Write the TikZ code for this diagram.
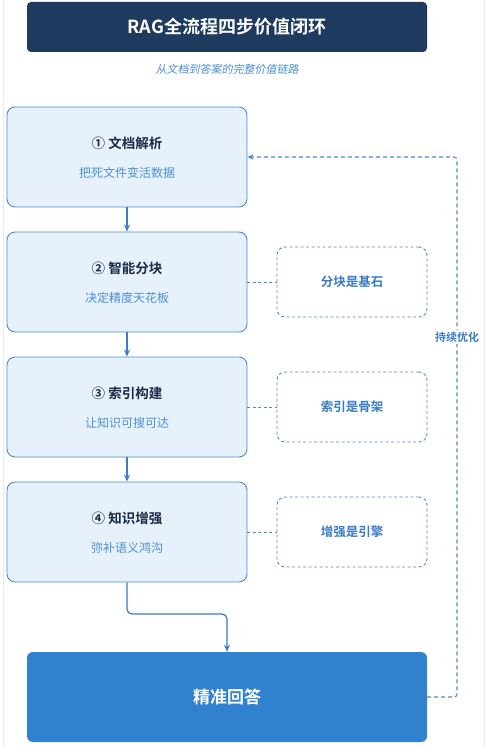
\documentclass[tikz,border=0pt]{standalone}
\usepackage{fontspec}
\setmainfont{Noto Sans CJK SC}[BoldFont={Noto Sans CJK SC Bold}]
\newfontfamily\cjkit{Noto Sans CJK SC}[FakeSlant=0.2]
\usetikzlibrary{arrows.meta}
\definecolor{navy}{HTML}{1E3A5F}
\definecolor{stepfill}{HTML}{E6F1FC}
\definecolor{stepline}{HTML}{4A8CD0}
\definecolor{darktext}{HTML}{1A2B45}
\definecolor{subblue}{HTML}{4A8FD6}
\definecolor{arrowblue}{HTML}{3A7FC8}
\definecolor{finalblue}{HTML}{3182CE}
\definecolor{sideblue}{HTML}{3A7CC4}
\definecolor{edgegray}{HTML}{E6EAF2}
\begin{document}
\begin{tikzpicture}[x=1pt,y=-1pt,
  stepbox/.style={draw=stepline,fill=stepfill,line width=0.9pt,rounded corners=8pt,minimum width=240pt,minimum height=100pt},
  sidebox/.style={draw=stepline,dashed,dash pattern=on 3pt off 2.5pt,line width=0.9pt,rounded corners=8pt,minimum width=150pt,minimum height=70pt,
    text=sideblue,font=\bfseries\fontsize{12.5}{14}\selectfont},
  steptitle/.style={text=darktext,font=\bfseries\fontsize{13.5}{16}\selectfont},
  stepsub/.style={text=subblue,font=\fontsize{12}{14}\selectfont},
  flow/.style={draw=arrowblue,line width=1.3pt,-{Stealth[length=7pt,width=6pt]}},
  link/.style={draw=stepline,line width=0.9pt,dash pattern=on 3pt off 2.5pt},
  loop/.style={draw=stepline,line width=1.1pt,dash pattern=on 4pt off 3pt}
]
\useasboundingbox (0,0) rectangle (488,746);
\fill[white] (0,0) rectangle (488,746);
\draw[edgegray,line width=1pt] (3,0) -- (3,746);
\draw[edgegray,line width=1pt] (484,0) -- (484,746);

\node[fill=navy,rounded corners=4pt,minimum width=400pt,minimum height=50pt,text=white,font=\bfseries\fontsize{18}{20}\selectfont] (title) at (227,27) {RAG全流程四步价值闭环};
\node[text=subblue,font=\cjkit\fontsize{11}{13}\selectfont] (subtitle) at (227,69) {从文档到答案的完整价值链路};

\node[stepbox] (s1) at (127,157) {};
\node[stepbox] (s2) at (127,282) {};
\node[stepbox] (s3) at (127,407) {};
\node[stepbox] (s4) at (127,532) {};

\node[steptitle] (t1) at (127,143) {① 文档解析};
\node[stepsub] (u1) at (127,173) {把死文件变活数据};
\node[steptitle] (t2) at (127,268) {② 智能分块};
\node[stepsub] (u2) at (127,298) {决定精度天花板};
\node[steptitle] (t3) at (127,393) {③ 索引构建};
\node[stepsub] (u3) at (127,423) {让知识可搜可达};
\node[steptitle] (t4) at (127,518) {④ 知识增强};
\node[stepsub] (u4) at (127,548) {弥补语义鸿沟};

\node[sidebox] (n2) at (352,282) {分块是基石};
\node[sidebox] (n3) at (352,407) {索引是骨架};
\node[sidebox] (n4) at (352,532) {增强是引擎};

\node[fill=finalblue,rounded corners=6pt,minimum width=400pt,minimum height=90pt,text=white,font=\bfseries\fontsize{17}{19}\selectfont] (final) at (227,697) {精准回答};

\draw[flow] (s1.south) -- (s2.north);
\draw[flow] (s2.south) -- (s3.north);
\draw[flow] (s3.south) -- (s4.north);
\draw[flow,rounded corners=5pt] (s4.south) -- (127,614) -- (227,614) -- (final.north);

\draw[link] (s2.east) -- (n2.west);
\draw[link] (s3.east) -- (n3.west);
\draw[link] (s4.east) -- (n4.west);

\coordinate (c1) at (457,697);
\coordinate (c2) at (457,157);
\draw[loop,rounded corners=3pt,-{Stealth[length=6pt,width=5.5pt]}] (final.east) -- (c1) -- (c2) -- (s1.east);
\node[fill=white,inner sep=1.5pt,text=sideblue,font=\bfseries\fontsize{11}{13}\selectfont] (lbl) at (457,337) {持续优化};
\end{tikzpicture}
\end{document}
